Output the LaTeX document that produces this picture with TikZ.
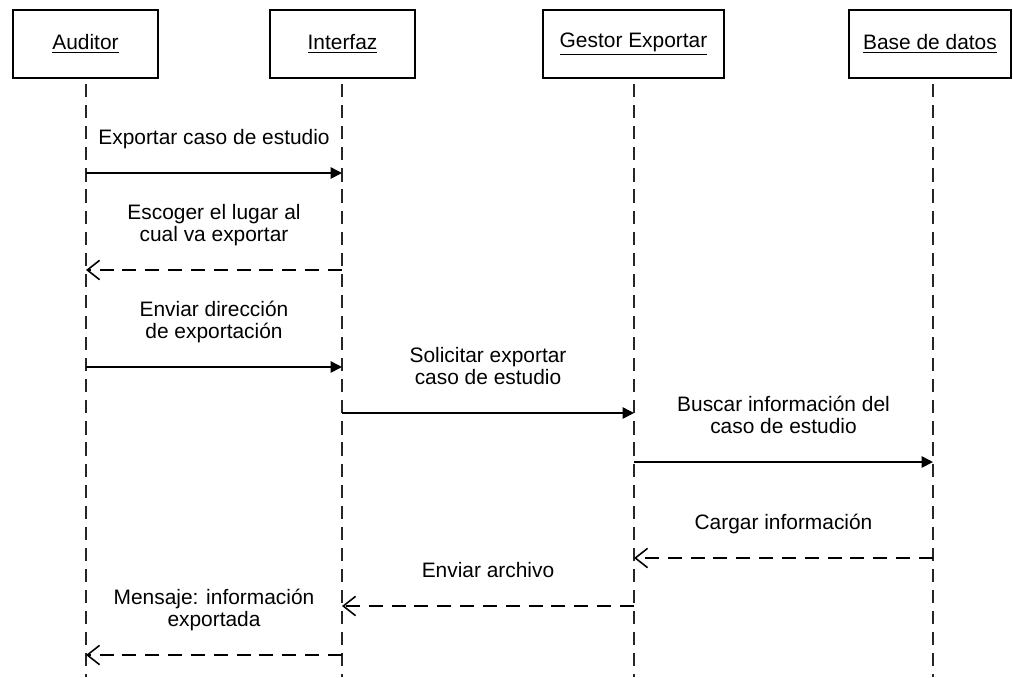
\documentclass[tikz,border=0pt]{standalone}
\usepackage{fontspec}
\setmainfont{Liberation Sans}
\usetikzlibrary{arrows.meta}

\begin{document}
\begin{tikzpicture}[x=0.02cm,y=-0.02cm,
  every node/.style={font=\fontsize{11.9}{12.5}\selectfont},
  obj/.style={draw,line width=0.85pt,minimum height=1.36cm,inner sep=0pt},
  life/.style={black!85,line width=0.8pt,dash pattern=on 7.5pt off 4.5pt},
  call/.style={line width=0.9pt,-{Triangle[length=6.5pt,width=6.5pt]}},
  reply/.style={line width=0.9pt,dash pattern=on 8pt off 5pt,-{Straight Barb[length=7pt,width=11pt]}},
  msg/.style={align=center,text depth=3pt,above=9.5pt}]
\useasboundingbox (0,0) rectangle (1013,677);

\node[obj,minimum width=2.9cm] (aud) at (85.5,44) {\underline{Auditor}};
\node[obj,minimum width=2.9cm] (int) at (342.5,44) {\underline{Interfaz}};
\node[obj,minimum width=3.62cm] (ges) at (633.5,44) {\underline{Gestor Exportar}};
\node[obj,minimum width=3.24cm] (bd) at (930,44) {\underline{Base de datos}};
\coordinate (audl) at (86,78);
\coordinate (intl) at (342,78);
\coordinate (gesl) at (634,78);
\coordinate (bdl) at (933,78);

\draw[life] (audl) ++(0,6) -- (audl |- 0,677);
\draw[life] (intl) ++(0,6) -- (intl |- 0,677);
\draw[life] (gesl) ++(0,6) -- (gesl |- 0,677);
\draw[life] (bdl) ++(0,6) -- (bdl |- 0,677);

\draw[call] (audl |- 0,173) -- node[msg] (m1) {Exportar caso de estudio} (intl |- 0,173);
\draw[reply] (intl |- 0,270) -- node[msg] (m2) {Escoger el lugar al\\cual va exportar} (audl |- 0,270);
\draw[call] (audl |- 0,367) -- node[msg] (m3) {Enviar dirección\\de exportación} (intl |- 0,367);
\draw[call] (intl |- 0,413) -- node[msg] (m4) {Solicitar exportar\\caso de estudio} (gesl |- 0,413);
\draw[call] (gesl |- 0,462) -- node[msg] (m5) {Buscar información del\\caso de estudio} (bdl |- 0,462);
\draw[reply] (bdl |- 0,558) -- node[msg] (m6) {Cargar información} (gesl |- 0,558);
\draw[reply] (gesl |- 0,606) -- node[msg] (m7) {Enviar archivo} (intl |- 0,606);
\draw[reply] (intl |- 0,655) -- node[msg] (m8) {Mensaje: información\\exportada} (audl |- 0,655);
\end{tikzpicture}
\end{document}
